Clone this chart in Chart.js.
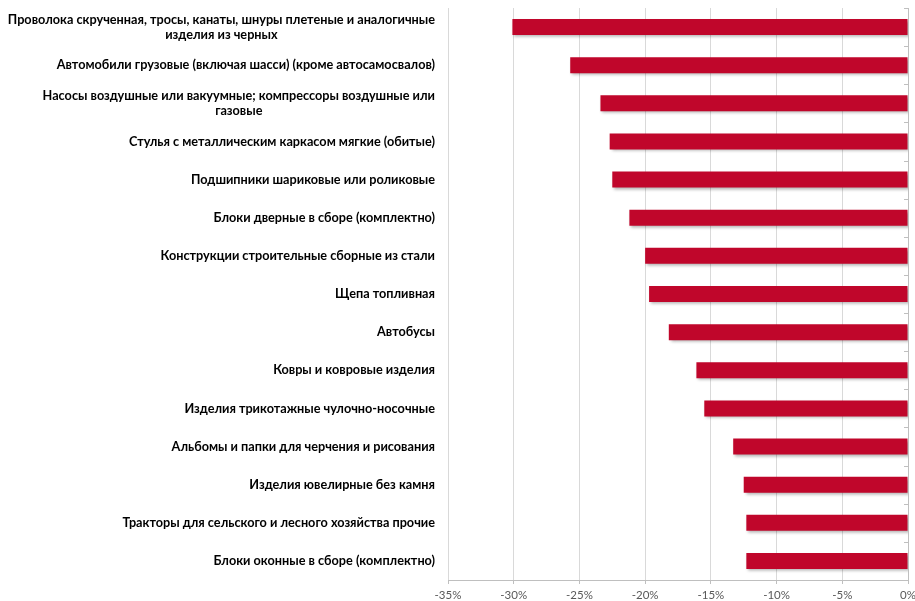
<!DOCTYPE html>
<html>
<head>
<meta charset="utf-8">
<script src="https://cdn.jsdelivr.net/npm/chart.js@4"></script>
<style>
    html, body { margin: 0; padding: 0; background: #fff; }
    #wrap { width: 915px; height: 601px; }
</style>
</head>
<body>
<div id="wrap"><canvas id="chart"></canvas></div>
<script>
// Categories (wrapped lines as arrays)
const categories = [
    ['Проволока скрученная, тросы, канаты, шнуры плетеные и аналогичные', 'изделия из черных'],
    'Автомобили грузовые (включая шасси) (кроме автосамосвалов)',
    ['Насосы воздушные или вакуумные; компрессоры воздушные или', 'газовые'],
    'Стулья с металлическим каркасом мягкие (обитые)',
    'Подшипники шариковые или роликовые',
    'Блоки дверные в сборе (комплектно)',
    'Конструкции строительные сборные из стали',
    'Щепа топливная',
    'Автобусы',
    'Ковры и ковровые изделия',
    'Изделия трикотажные чулочно-носочные',
    'Альбомы и папки для черчения и рисования',
    'Изделия ювелирные без камня',
    'Тракторы для сельского и лесного хозяйства прочие',
    'Блоки оконные в сборе (комплектно)'
];

// Change, %
const values = [-30.1, -25.7, -23.4, -22.7, -22.5, -21.2, -20.0, -19.7, -18.2, -16.1, -15.5, -13.3, -12.5, -12.3, -12.3];

// X axis ticks
const xTicks = [-35, -30, -25, -20, -15, -10, -5, 0];

const labelFont = 'bold 12.7px Lato';

// Category labels: wrapped lines centred within their block, block right-aligned to the axis
const categoryLabels = {
    id: 'categoryLabels',
    afterDraw(c) {
        const ctx = c.ctx;
        const yScale = c.scales.y;
        const right = c.chartArea.left - 13;
        const lineH = 15;
        ctx.save();
        ctx.font = labelFont;
        ctx.fillStyle = '#000';
        ctx.textBaseline = 'middle';
        ctx.textAlign = 'center';
        categories.forEach((lab, i) => {
            const lines = Array.isArray(lab) ? lab : [lab];
            const w = Math.max(...lines.map(l => ctx.measureText(l).width));
            const cx = right - w / 2;
            const cy = yScale.getPixelForValue(i);
            const y0 = cy - (lines.length - 1) * lineH / 2;
            lines.forEach((l, k) => ctx.fillText(l, cx, y0 + k * lineH));
        });
        // small tick marks on the 0% axis between categories
        ctx.strokeStyle = '#bfbfbf';
        ctx.lineWidth = 1;
        const x0 = c.scales.x.getPixelForValue(0);
        for (let i = 0; i <= categories.length; i++) {
            const y = Math.round(yScale.getPixelForValue(i - 0.5)) + 0.5;
            ctx.beginPath();
            ctx.moveTo(x0 - 4, y);
            ctx.lineTo(x0, y);
            ctx.stroke();
        }
        ctx.restore();
    }
};

// Soft drop shadow under bars
const barShadow = {
    id: 'barShadow',
    beforeDatasetsDraw(c) {
        c.ctx.save();
        c.ctx.shadowColor = 'rgba(0, 0, 0, 0.3)';
        c.ctx.shadowBlur = 3;
        c.ctx.shadowOffsetX = 2;
        c.ctx.shadowOffsetY = 2;
    },
    afterDatasetsDraw(c) {
        c.ctx.restore();
    }
};

new Chart(document.getElementById('chart'), {
    type: 'bar',
    data: {
        labels: categories,
        datasets: [{
            data: values,
            backgroundColor: '#c0062b',
            borderWidth: 0,
            barPercentage: 0.42,
            categoryPercentage: 1
        }]
    },
    options: {
        indexAxis: 'y',
        responsive: true,
        maintainAspectRatio: false,
        animation: false,
        layout: { padding: { top: 8, right: 7, bottom: 0, left: 0 } },
        scales: {
            x: {
                min: -35,
                max: 0,
                afterBuildTicks: (scale) => {
                    scale.ticks = xTicks.map(v => ({ value: v }));
                },
                afterFit: (scale) => {
                    scale.height = 21;
                    scale.paddingLeft = 0;
                    scale.paddingRight = 0;
                },
                grid: {
                    color: (ctx) => ctx.tick && ctx.tick.value === 0 ? '#bfbfbf' : '#d9d9d9',
                    tickLength: 4,
                    tickColor: '#bfbfbf'
                },
                border: { color: '#bfbfbf' },
                ticks: {
                    padding: 4,
                    color: '#595959',
                    font: { family: 'Lato', size: 11.5 },
                    callback: (v) => v + '%'
                }
            },
            y: {
                ticks: { display: false },
                grid: { display: false },
                border: { display: false },
                afterFit: (scale) => { scale.width = 448; }
            }
        },
        plugins: {
            legend: { display: false },
            tooltip: { enabled: false }
        }
    },
    plugins: [categoryLabels, barShadow]
});
</script>
</body>
</html>
